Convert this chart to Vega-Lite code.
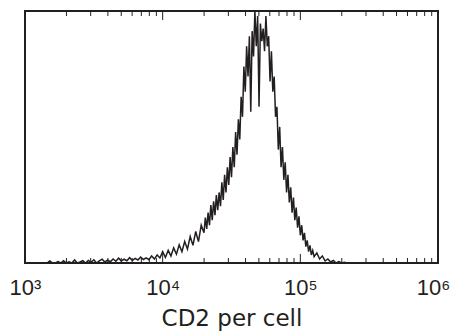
{
  "$schema": "https://vega.github.io/schema/vega-lite/v6.json",
  "width": 413,
  "height": 252,
  "autosize": {"type": "none"},
  "padding": {"left": 25, "top": 11, "right": 14, "bottom": 73},
  "background": "white",
  "config": {
    "view": {"stroke": "#231f20", "strokeWidth": 2},
    "font": "Liberation Sans"
  },
  "datasets": {
    "hist": [
    {"cd2": 1445, "count": 0}, {"cd2": 1514, "count": 0.8}, {"cd2": 1585, "count": 0}, {"cd2": 1660, "count": 0},
    {"cd2": 1738, "count": 0.6}, {"cd2": 1820, "count": 0}, {"cd2": 1905, "count": 0.9}, {"cd2": 1995, "count": 0},
    {"cd2": 2089, "count": 0.5}, {"cd2": 2188, "count": 0}, {"cd2": 2291, "count": 1.2}, {"cd2": 2399, "count": 0},
    {"cd2": 2512, "count": 0.4}, {"cd2": 2630, "count": 0.9}, {"cd2": 2754, "count": 0}, {"cd2": 2884, "count": 1.0},
    {"cd2": 3020, "count": 0.3}, {"cd2": 3162, "count": 1.3}, {"cd2": 3311, "count": 0}, {"cd2": 3467, "count": 0.8},
    {"cd2": 3631, "count": 1.5}, {"cd2": 3802, "count": 0.4}, {"cd2": 3981, "count": 1.1}, {"cd2": 4169, "count": 0.5},
    {"cd2": 4365, "count": 1.6}, {"cd2": 4571, "count": 0.7}, {"cd2": 4786, "count": 1.9}, {"cd2": 5012, "count": 0.8},
    {"cd2": 5248, "count": 1.5}, {"cd2": 5495, "count": 0.9}, {"cd2": 5754, "count": 2.1}, {"cd2": 6026, "count": 1.0},
    {"cd2": 6310, "count": 1.8}, {"cd2": 6607, "count": 1.2}, {"cd2": 6918, "count": 2.4}, {"cd2": 7244, "count": 1.4},
    {"cd2": 7586, "count": 2.0}, {"cd2": 7943, "count": 1.3}, {"cd2": 8318, "count": 2.8}, {"cd2": 8710, "count": 1.6},
    {"cd2": 9120, "count": 3.2}, {"cd2": 9550, "count": 2.0}, {"cd2": 10000, "count": 4.5}, {"cd2": 10471, "count": 2.2},
    {"cd2": 10965, "count": 5.0}, {"cd2": 11482, "count": 2.8}, {"cd2": 12023, "count": 6.0}, {"cd2": 12589, "count": 3.5},
    {"cd2": 13183, "count": 7.2}, {"cd2": 13804, "count": 4.5}, {"cd2": 14454, "count": 8.5}, {"cd2": 15136, "count": 5.5},
    {"cd2": 15849, "count": 10.5}, {"cd2": 16596, "count": 7.0}, {"cd2": 17378, "count": 12.5}, {"cd2": 18197, "count": 8.5},
    {"cd2": 19055, "count": 15.0},
    {"cd2": 19953, "count": 12.0}, {"cd2": 20417, "count": 18.0}, {"cd2": 20893, "count": 13.5}, {"cd2": 21380, "count": 20.0},
    {"cd2": 21878, "count": 15.0}, {"cd2": 22387, "count": 23.0}, {"cd2": 22909, "count": 17.0}, {"cd2": 23442, "count": 24.5},
    {"cd2": 23988, "count": 19.0}, {"cd2": 24547, "count": 27.0}, {"cd2": 25119, "count": 21.0}, {"cd2": 25704, "count": 28.0},
    {"cd2": 26303, "count": 22.5}, {"cd2": 26915, "count": 32.0}, {"cd2": 27542, "count": 25.0}, {"cd2": 28184, "count": 35.0},
    {"cd2": 28840, "count": 28.0}, {"cd2": 29512, "count": 38.0}, {"cd2": 30200, "count": 31.0}, {"cd2": 30903, "count": 42.0},
    {"cd2": 31623, "count": 34.0}, {"cd2": 32359, "count": 46.0}, {"cd2": 33113, "count": 38.0}, {"cd2": 33884, "count": 52.0},
    {"cd2": 34674, "count": 43.0}, {"cd2": 35481, "count": 57.0}, {"cd2": 36308, "count": 49.0}, {"cd2": 37154, "count": 66.0},
    {"cd2": 38019, "count": 58.0}, {"cd2": 38905, "count": 78.0}, {"cd2": 39811, "count": 68.0}, {"cd2": 40738, "count": 86.0},
    {"cd2": 41687, "count": 74.0}, {"cd2": 42658, "count": 90.0}, {"cd2": 43652, "count": 60.0}, {"cd2": 44668, "count": 92.0},
    {"cd2": 45709, "count": 82.0}, {"cd2": 46774, "count": 100.0}, {"cd2": 47863, "count": 86.0}, {"cd2": 48978, "count": 98.0},
    {"cd2": 50119, "count": 62.0}, {"cd2": 51286, "count": 95.0}, {"cd2": 52481, "count": 88.0}, {"cd2": 53703, "count": 93.0},
    {"cd2": 54954, "count": 84.0}, {"cd2": 56234, "count": 98.0}, {"cd2": 57544, "count": 86.0}, {"cd2": 58884, "count": 90.0},
    {"cd2": 60256, "count": 72.0}, {"cd2": 61660, "count": 84.0}, {"cd2": 63096, "count": 68.0}, {"cd2": 64565, "count": 74.0},
    {"cd2": 66069, "count": 58.0}, {"cd2": 67608, "count": 62.0}, {"cd2": 69183, "count": 45.0}, {"cd2": 70795, "count": 54.0},
    {"cd2": 72444, "count": 38.0}, {"cd2": 74131, "count": 46.0}, {"cd2": 75858, "count": 33.0}, {"cd2": 77625, "count": 40.0},
    {"cd2": 79433, "count": 28.0}, {"cd2": 81283, "count": 35.0}, {"cd2": 83176, "count": 24.0}, {"cd2": 85114, "count": 30.0},
    {"cd2": 87096, "count": 20.0}, {"cd2": 89125, "count": 26.0}, {"cd2": 91201, "count": 17.0}, {"cd2": 93325, "count": 22.0},
    {"cd2": 95499, "count": 14.0}, {"cd2": 97724, "count": 18.5}, {"cd2": 100000, "count": 11.0}, {"cd2": 102329, "count": 15.0},
    {"cd2": 104713, "count": 9.0}, {"cd2": 107152, "count": 12.0}, {"cd2": 109648, "count": 6.5}, {"cd2": 112202, "count": 9.0},
    {"cd2": 114815, "count": 4.5}, {"cd2": 117490, "count": 7.0}, {"cd2": 120226, "count": 3.2}, {"cd2": 123027, "count": 5.0},
    {"cd2": 125893, "count": 2.5}, {"cd2": 131826, "count": 4.0}, {"cd2": 138038, "count": 1.6}, {"cd2": 144544, "count": 2.8},
    {"cd2": 151356, "count": 0.8}, {"cd2": 158489, "count": 1.6}, {"cd2": 165959, "count": 0.4}, {"cd2": 173780, "count": 1.0},
    {"cd2": 181970, "count": 0}, {"cd2": 190546, "count": 0.6}, {"cd2": 199526, "count": 0}, {"cd2": 208930, "count": 0.3},
    {"cd2": 218776, "count": 0}
    ],
    "ticks": [
      {"cd2": 2000, "kind": "minor"}, {"cd2": 3000, "kind": "minor"}, {"cd2": 4000, "kind": "minor"}, {"cd2": 5000, "kind": "minor"},
      {"cd2": 6000, "kind": "minor"}, {"cd2": 7000, "kind": "minor"}, {"cd2": 8000, "kind": "minor"}, {"cd2": 9000, "kind": "minor"},
      {"cd2": 10000, "kind": "major"},
      {"cd2": 20000, "kind": "minor"}, {"cd2": 30000, "kind": "minor"}, {"cd2": 40000, "kind": "minor"}, {"cd2": 50000, "kind": "minor"},
      {"cd2": 60000, "kind": "minor"}, {"cd2": 70000, "kind": "minor"}, {"cd2": 80000, "kind": "minor"}, {"cd2": 90000, "kind": "minor"},
      {"cd2": 100000, "kind": "major"},
      {"cd2": 200000, "kind": "minor"}, {"cd2": 300000, "kind": "minor"}, {"cd2": 400000, "kind": "minor"}, {"cd2": 500000, "kind": "minor"},
      {"cd2": 600000, "kind": "minor"}, {"cd2": 700000, "kind": "minor"}, {"cd2": 800000, "kind": "minor"}, {"cd2": 900000, "kind": "minor"}
    ]
  },
  "encoding": {
    "x": {
      "field": "cd2", "type": "quantitative",
      "scale": {"type": "log", "domain": [1000, 1000000], "nice": false},
      "axis": {
        "orient": "bottom",
        "title": "CD2 per cell",
        "titleFont": "DejaVu Sans",
        "titleFontSize": 23,
        "titleFontWeight": "normal",
        "titleColor": "#231f20",
        "titlePadding": 9,
        "domain": false,
        "grid": false,
        "ticks": false,
        "values": [1000, 10000, 100000, 1000000],
        "labelExpr": "datum.value==1000?'10³':datum.value==10000?'10⁴':datum.value==100000?'10⁵':'10⁶'",
        "labelFont": "Liberation Sans",
        "labelFontSize": 22,
        "labelColor": "#231f20",
        "labelFlush": false,
        "labelOverlap": false,
        "labelPadding": 14,
        "labelOffset": {"condition": {"test": "datum.value==1000000", "value": -5}, "value": 0}
      }
    }
  },
  "layer": [
    {
      "data": {"name": "hist"},
      "mark": {"type": "line", "color": "#231f20", "strokeWidth": 1.5, "interpolate": "linear", "clip": true},
      "encoding": {
        "y": {"field": "count", "type": "quantitative", "scale": {"domain": [0, 100], "nice": false, "zero": true}, "axis": null}
      }
    },
    {
      "data": {"name": "ticks"},
      "transform": [{"filter": "datum.kind == 'minor'"}],
      "mark": {"type": "rule", "color": "#231f20", "strokeWidth": 1},
      "encoding": {
        "y": {"datum": 0, "type": "quantitative", "axis": null},
        "y2": {"datum": 2}
      }
    },
    {
      "data": {"name": "ticks"},
      "transform": [{"filter": "datum.kind == 'major'"}],
      "mark": {"type": "rule", "color": "#231f20", "strokeWidth": 1},
      "encoding": {
        "y": {"datum": 0, "type": "quantitative", "axis": null},
        "y2": {"datum": 3.6}
      }
    },
    {
      "data": {"name": "ticks"},
      "transform": [{"filter": "datum.kind == 'minor'"}],
      "mark": {"type": "rule", "color": "#231f20", "strokeWidth": 1},
      "encoding": {
        "y": {"datum": 100, "type": "quantitative", "axis": null},
        "y2": {"datum": 98}
      }
    },
    {
      "data": {"name": "ticks"},
      "transform": [{"filter": "datum.kind == 'major'"}],
      "mark": {"type": "rule", "color": "#231f20", "strokeWidth": 1},
      "encoding": {
        "y": {"datum": 100, "type": "quantitative", "axis": null},
        "y2": {"datum": 96.4}
      }
    }
  ]
}
